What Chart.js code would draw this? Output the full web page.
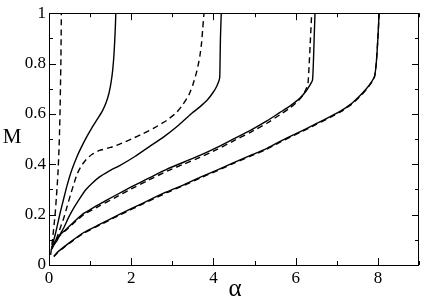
<!DOCTYPE html>
<html>
<head>
<meta charset="utf-8">
<script src="https://cdn.jsdelivr.net/npm/chart.js@4/dist/chart.umd.min.js"></script>
<style>
html,body{margin:0;padding:0;background:#fff;}
#c{display:block;}
</style>
</head>
<body>
<canvas id="c" width="421" height="298"></canvas>
<script>
// ---- data (alpha on x, M on y) ----
const xTickValues = [0, 2, 4, 6, 8];
const yTickValues = [0, 0.2, 0.4, 0.6, 0.8, 1];
const xTitle = 'α';
const yTitle = 'M';

// curve 1: steep dashed
const a1 = [0.04, 0.07, 0.10, 0.13, 0.155, 0.18, 0.20, 0.22, 0.24, 0.255, 0.27, 0.28, 0.29, 0.295, 0.30];
const m1 = [0.04, 0.08, 0.123, 0.17, 0.213, 0.27, 0.316, 0.37, 0.445, 0.52, 0.62, 0.72, 0.82, 0.90, 1.00];
// curve 2: solid, S-shaped, ends ~1.6
const a2 = [0.06, 0.10, 0.155, 0.22, 0.28, 0.36, 0.44, 0.55, 0.68, 0.80, 0.92, 1.05, 1.18, 1.30, 1.39, 1.46, 1.51, 1.55, 1.58, 1.60, 1.615, 1.625];
const m2 = [0.06, 0.09, 0.123, 0.17, 0.213, 0.265, 0.316, 0.375, 0.43, 0.472, 0.51, 0.547, 0.58, 0.612, 0.645, 0.683, 0.725, 0.775, 0.835, 0.895, 0.95, 1.00];
// curve 3: dashed, ends ~3.8
const a3 = [0.07, 0.12, 0.195, 0.28, 0.36, 0.44, 0.52, 0.60, 0.68, 0.79, 0.91, 1.05, 1.23, 1.50, 1.72, 2.00, 2.29, 2.60, 2.86, 3.10, 3.26, 3.40, 3.50, 3.58, 3.63, 3.67, 3.71, 3.74, 3.77];
const m3 = [0.065, 0.085, 0.11, 0.15, 0.187, 0.232, 0.277, 0.32, 0.36, 0.395, 0.42, 0.44, 0.455, 0.467, 0.48, 0.50, 0.522, 0.548, 0.574, 0.605, 0.638, 0.675, 0.716, 0.76, 0.795, 0.83, 0.88, 0.94, 1.00];
// curve 4: solid, ends ~4.2
const a4 = [0.07, 0.12, 0.195, 0.28, 0.36, 0.48, 0.60, 0.75, 0.90, 1.05, 1.23, 1.45, 1.72, 2.10, 2.45, 2.80, 3.10, 3.42, 3.67, 3.85, 3.99, 4.08, 4.15, 4.16, 4.17, 4.19];
const m4 = [0.065, 0.08, 0.097, 0.125, 0.148, 0.19, 0.226, 0.265, 0.30, 0.325, 0.35, 0.372, 0.395, 0.432, 0.471, 0.51, 0.548, 0.595, 0.628, 0.655, 0.685, 0.71, 0.742, 0.80, 0.90, 1.00];
// curve 5: solid, ends ~6.45
const a5 = [0.07, 0.15, 0.27, 0.44, 0.65, 0.845, 1.05, 1.23, 1.60, 2.00, 2.40, 2.86, 3.30, 3.67, 4.10, 4.48, 4.90, 5.30, 5.61, 5.85, 6.10, 6.25, 6.35, 6.41, 6.43, 6.45, 6.47];
const m5 = [0.07, 0.095, 0.12, 0.145, 0.178, 0.205, 0.225, 0.242, 0.275, 0.31, 0.343, 0.38, 0.41, 0.435, 0.468, 0.50, 0.535, 0.572, 0.605, 0.63, 0.662, 0.69, 0.715, 0.735, 0.80, 0.90, 1.00];
// curve 6: dashed, ends ~6.4
const a6 = [0.07, 0.15, 0.27, 0.44, 0.65, 0.845, 1.05, 1.23, 1.60, 2.00, 2.40, 2.86, 3.30, 3.67, 4.10, 4.48, 4.90, 5.30, 5.61, 5.85, 6.05, 6.18, 6.27, 6.30, 6.33, 6.36, 6.39];
const m6 = [0.07, 0.094, 0.118, 0.142, 0.174, 0.20, 0.219, 0.235, 0.267, 0.302, 0.335, 0.372, 0.402, 0.427, 0.46, 0.492, 0.527, 0.563, 0.596, 0.622, 0.65, 0.675, 0.705, 0.72, 0.80, 0.90, 1.00];
// curve 7: solid, ends ~8
const a7 = [0.12, 0.20, 0.35, 0.55, 0.845, 1.23, 1.70, 2.30, 2.86, 3.30, 3.67, 4.10, 4.48, 4.90, 5.29, 5.61, 6.10, 6.50, 6.85, 7.10, 7.35, 7.55, 7.72, 7.85, 7.92, 7.96, 8.00, 8.03];
const m7 = [0.035, 0.05, 0.07, 0.095, 0.129, 0.161, 0.20, 0.247, 0.29, 0.32, 0.348, 0.378, 0.406, 0.435, 0.462, 0.49, 0.529, 0.561, 0.59, 0.612, 0.64, 0.67, 0.70, 0.728, 0.75, 0.80, 0.90, 1.00];
// curve 8: dashed, nearly on top of curve 7
const a8 = [0.12, 0.20, 0.35, 0.55, 0.845, 1.23, 1.70, 2.30, 2.86, 3.30, 3.67, 4.10, 4.48, 4.90, 5.29, 5.61, 6.10, 6.50, 6.85, 7.10, 7.35, 7.55, 7.72, 7.85, 7.92, 7.96, 8.00, 8.03];
const m8 = [0.033, 0.048, 0.068, 0.093, 0.127, 0.158, 0.197, 0.244, 0.287, 0.317, 0.345, 0.375, 0.403, 0.432, 0.459, 0.487, 0.526, 0.558, 0.587, 0.609, 0.637, 0.667, 0.697, 0.725, 0.748, 0.80, 0.90, 1.00];

const curves = [
  {a: a1, m: m1, dashed: true},
  {a: a2, m: m2, dashed: false},
  {a: a3, m: m3, dashed: true},
  {a: a4, m: m4, dashed: false},
  {a: a5, m: m5, dashed: false},
  {a: a6, m: m6, dashed: true},
  {a: a7, m: m7, dashed: false},
  {a: a8, m: m8, dashed: true}
];

const SERIF = "'Liberation Serif', 'Times New Roman', Times, serif";
Chart.defaults.font.family = SERIF;
Chart.defaults.color = '#000';

const datasets = curves.map(c => ({
  data: c.a.map((x, i) => ({x: x, y: c.m[i]})),
  showLine: true,
  borderColor: '#000',
  borderWidth: 1.4,
  borderDash: c.dashed ? [6, 4] : [],
  pointRadius: 0,
  tension: 0.15,
  fill: false
}));

const frameAndTicks = {
  id: 'frameAndTicks',
  afterDatasetsDraw(chart) {
    const ctx = chart.ctx;
    const ca = chart.chartArea;
    const xs = chart.scales.x, ys = chart.scales.y;
    ctx.save();
    ctx.strokeStyle = '#000';
    ctx.lineWidth = 1;
    ctx.setLineDash([]);
    ctx.strokeRect(Math.round(ca.left) + 0.5, Math.round(ca.top) + 0.5,
                   Math.round(ca.right - ca.left) - 1, Math.round(ca.bottom - ca.top));
    ctx.beginPath();
    for (let v = 0; v <= 9; v++) {
      const px = Math.round(xs.getPixelForValue(v)) + 0.5;
      const len = (v % 2 === 0) ? 7 : 4;
      ctx.moveTo(px, ca.bottom); ctx.lineTo(px, ca.bottom - len);
      ctx.moveTo(px, ca.top); ctx.lineTo(px, ca.top + len);
    }
    for (let k = 0; k <= 10; k++) {
      const py = Math.round(ys.getPixelForValue(k / 10)) + 0.5;
      const len = (k % 2 === 0) ? 7 : 4;
      ctx.moveTo(ca.left, py); ctx.lineTo(ca.left + len, py);
      ctx.moveTo(ca.right, py); ctx.lineTo(ca.right - len, py);
    }
    ctx.stroke();
    // axis titles
    ctx.fillStyle = '#000';
    ctx.textAlign = 'center';
    ctx.textBaseline = 'middle';
    ctx.font = '21px ' + SERIF;
    ctx.fillText(yTitle, 12, 137);
    ctx.font = '25px ' + SERIF;
    ctx.textBaseline = 'alphabetic';
    ctx.fillText(xTitle, 235, 296);
    ctx.restore();
  }
};

function draw() {
  new Chart(document.getElementById('c'), {
    type: 'scatter',
    data: {datasets: datasets},
    options: {
      responsive: false,
      devicePixelRatio: 1,
      animation: false,
      layout: {padding: {top: 6, right: 2, left: 0, bottom: 0}},
      plugins: {legend: {display: false}, tooltip: {enabled: false}},
      scales: {
        x: {
          type: 'linear', min: 0, max: 9,
          afterFit(s) { s.height = 33; },
          grid: {display: false, drawTicks: false},
          border: {display: false},
          ticks: {
            stepSize: 2, includeBounds: false, padding: 3, maxRotation: 0,
            color: '#000', font: {family: SERIF, size: 17},
            callback: v => xTickValues.includes(v) ? String(v) : ''
          }
        },
        y: {
          type: 'linear', min: 0, max: 1,
          afterFit(s) { s.width = 49; },
          grid: {display: false, drawTicks: false},
          border: {display: false},
          ticks: {
            stepSize: 0.2, padding: 3,
            color: '#000', font: {family: SERIF, size: 17},
            callback: v => {
              const r = Math.round(v * 10) / 10;
              return yTickValues.some(t => Math.abs(t - r) < 1e-9) ? String(r) : '';
            }
          }
        }
      }
    },
    plugins: [frameAndTicks]
  });
}

if (document.fonts && document.fonts.load) {
  Promise.all([
    document.fonts.load("17px 'Liberation Serif'"),
    document.fonts.load("25px 'Liberation Serif'")
  ]).then(draw, draw);
} else {
  draw();
}
</script>
</body>
</html>
